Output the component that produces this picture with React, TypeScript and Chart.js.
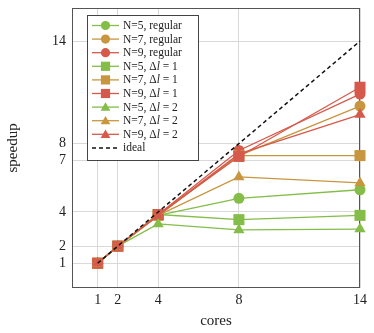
import React, { useEffect, useRef } from 'react';
import { Chart, registerables } from 'chart.js';

Chart.register(...registerables);

const cores = [1, 2, 4, 8, 14];
const xTicks = [1, 2, 4, 8, 14];
const yTicks = [1, 2, 4, 7, 8, 14];

const n5Regular = [1, 2, 3.8, 4.8, 5.3];
const n7Regular = [1, 2, 3.8, 7.3, 10.2];
const n9Regular = [1, 2, 3.85, 7.6, 10.9];
const n5Dl1 = [1, 2, 3.85, 3.55, 3.8];
const n7Dl1 = [1, 2, 3.8, 7.3, 7.3];
const n9Dl1 = [1, 2, 3.85, 7.25, 11.3];
const n5Dl2 = [1, 2, 3.3, 2.95, 3.0];
const n7Dl2 = [1, 2, 3.8, 6.05, 5.7];
const n9Dl2 = [1, 2, 3.8, 7.4, 9.7];
const ideal = [1, 2, 4, 8, 14];

const GREEN = '#84bd47';
const ORANGE = '#c8963f';
const RED = '#d55a4b';

type Part = { t: string; italic?: boolean };
type Series = { parts: Part[]; data: number[]; color: string; style: string; dash?: number[] };

const dl = (n: number, v: number): Part[] => [
  { t: `N=${n}, Δ` },
  { t: 'l', italic: true },
  { t: ` = ${v}` },
];

const series: Series[] = [
  { parts: [{ t: 'N=5, regular' }], data: n5Regular, color: GREEN, style: 'circle' },
  { parts: [{ t: 'N=7, regular' }], data: n7Regular, color: ORANGE, style: 'circle' },
  { parts: [{ t: 'N=9, regular' }], data: n9Regular, color: RED, style: 'circle' },
  { parts: dl(5, 1), data: n5Dl1, color: GREEN, style: 'rect' },
  { parts: dl(7, 1), data: n7Dl1, color: ORANGE, style: 'rect' },
  { parts: dl(9, 1), data: n9Dl1, color: RED, style: 'rect' },
  { parts: dl(5, 2), data: n5Dl2, color: GREEN, style: 'triangle' },
  { parts: dl(7, 2), data: n7Dl2, color: ORANGE, style: 'triangle' },
  { parts: dl(9, 2), data: n9Dl2, color: RED, style: 'triangle' },
  { parts: [{ t: 'ideal' }], data: ideal, color: '#111', style: 'none', dash: [4, 3] },
];

const SERIF = '"Liberation Serif", "DejaVu Serif", serif';

function pointRadius(style: string) {
  if (style === 'circle') return 5.5;
  if (style === 'rect') return 7.8;
  if (style === 'triangle') return 6.5;
  return 0;
}

function drawMarker(ctx: CanvasRenderingContext2D, style: string, x: number, y: number, color: string) {
  ctx.fillStyle = color;
  ctx.beginPath();
  if (style === 'circle') {
    ctx.arc(x, y, 4.6, 0, Math.PI * 2);
  } else if (style === 'rect') {
    ctx.rect(x - 4.6, y - 4.6, 9.2, 9.2);
  } else if (style === 'triangle') {
    const r = 5.6;
    for (let k = 0; k < 3; k++) {
      const a = (k * 2 * Math.PI) / 3;
      const px = x + Math.sin(a) * r;
      const py = y + 0.8 - Math.cos(a) * r;
      if (k === 0) ctx.moveTo(px, py);
      else ctx.lineTo(px, py);
    }
    ctx.closePath();
  } else {
    return;
  }
  ctx.fill();
}

const framePlugin = {
  id: 'frame',
  beforeDatasetsDraw(chart: any) {
    const { ctx, chartArea } = chart;
    ctx.save();
    ctx.strokeStyle = '#555';
    ctx.lineWidth = 1;
    const l = Math.round(chartArea.left) + 0.5;
    const t = Math.round(chartArea.top) + 0.5;
    const r = Math.round(chartArea.right) - 0.5;
    const b = Math.round(chartArea.bottom) - 0.5;
    ctx.strokeRect(l, t, r - l, b - t);
    ctx.restore();
  },
};

const legendPlugin = {
  id: 'customLegend',
  afterDraw(chart: any) {
    const ctx: CanvasRenderingContext2D = chart.ctx;
    ctx.save();
    const bx = 87.5, by = 15.5, bw = 111, bh = 145;
    ctx.fillStyle = '#fff';
    ctx.fillRect(bx, by, bw, bh);
    ctx.strokeStyle = '#444';
    ctx.lineWidth = 1;
    ctx.strokeRect(bx, by, bw, bh);
    series.forEach((s, i) => {
      const y = 25.5 + i * 13.6;
      ctx.strokeStyle = s.color;
      ctx.lineWidth = s.dash ? 1.5 : 1.3;
      ctx.setLineDash(s.dash || []);
      ctx.beginPath();
      ctx.moveTo(92, y);
      ctx.lineTo(119, y);
      ctx.stroke();
      ctx.setLineDash([]);
      drawMarker(ctx, s.style, 105.5, y, s.color);
      let x = 123;
      ctx.fillStyle = '#222';
      ctx.textBaseline = 'middle';
      ctx.textAlign = 'left';
      for (const p of s.parts) {
        ctx.font = `${p.italic ? 'italic ' : ''}11.5px ${SERIF}`;
        ctx.fillText(p.t, x, y + 0.5);
        x += ctx.measureText(p.t).width;
      }
    });
    ctx.restore();
  },
};

export default function App() {
  const ref = useRef<HTMLCanvasElement | null>(null);
  useEffect(() => {
    if (!ref.current) return;
    const drawOrder = [...series].reverse();
    const datasets = drawOrder.map((s) => ({
      label: s.parts.map((p) => p.t).join(''),
      data: s.data.map((v, i) => ({ x: cores[i], y: v })),
      borderColor: s.color,
      backgroundColor: s.color,
      borderWidth: s.dash ? 1.5 : 1.3,
      borderDash: s.dash || [],
      pointStyle: s.style === 'none' ? 'circle' : s.style,
      pointRadius: pointRadius(s.style),
      pointBorderWidth: 0,
      pointHoverRadius: pointRadius(s.style),
      tension: 0,
      clip: false as any,
    }));
    const chart = new Chart(ref.current, {
      type: 'line',
      data: { datasets },
      options: {
        animation: false,
        responsive: false,
        events: [],
        layout: { padding: { top: 1, right: 14, left: 0, bottom: 0 } },
        plugins: { legend: { display: false }, tooltip: { enabled: false } },
        scales: {
          x: {
            type: 'linear',
            min: -0.27,
            max: 14,
            afterBuildTicks: (scale: any) => {
              scale.ticks = xTicks.map((v) => ({ value: v }));
            },
            afterFit: (scale: any) => {
              scale.height = 45;
              scale.paddingLeft = 0;
              scale.paddingRight = 0;
            },
            grid: { color: '#d9d9d9', lineWidth: 1, drawTicks: false },
            border: { display: false },
            ticks: {
              color: '#222',
              padding: 4,
              maxRotation: 0,
              autoSkip: false,
              font: { family: SERIF, size: 14 },
              callback: (v: any) => String(v),
            },
            title: {
              display: true,
              text: 'cores',
              color: '#222',
              font: { family: SERIF, size: 15 },
              padding: { top: 0, bottom: 3 },
            },
          },
          y: {
            type: 'linear',
            min: -0.45,
            max: 15.95,
            afterBuildTicks: (scale: any) => {
              scale.ticks = yTicks.map((v) => ({ value: v }));
            },
            afterFit: (scale: any) => {
              scale.width = 72;
              scale.paddingTop = 0;
              scale.paddingBottom = 0;
            },
            grid: { color: '#d9d9d9', lineWidth: 1, drawTicks: false },
            border: { display: false },
            ticks: {
              color: '#222',
              padding: 6,
              autoSkip: false,
              font: { family: SERIF, size: 14 },
              callback: (v: any) => String(v),
            },
            title: {
              display: true,
              text: 'speedup',
              color: '#222',
              font: { family: SERIF, size: 15 },
              padding: { top: 4, bottom: 0 },
            },
          },
        },
      },
      plugins: [framePlugin, legendPlugin],
    });
    return () => chart.destroy();
  }, []);
  return (
    <div style={{ position: 'absolute', left: 0, top: 0, width: 374, height: 333, background: '#fff' }}>
      <canvas ref={ref} width={374} height={333} style={{ display: 'block' }} />
    </div>
  );
}
